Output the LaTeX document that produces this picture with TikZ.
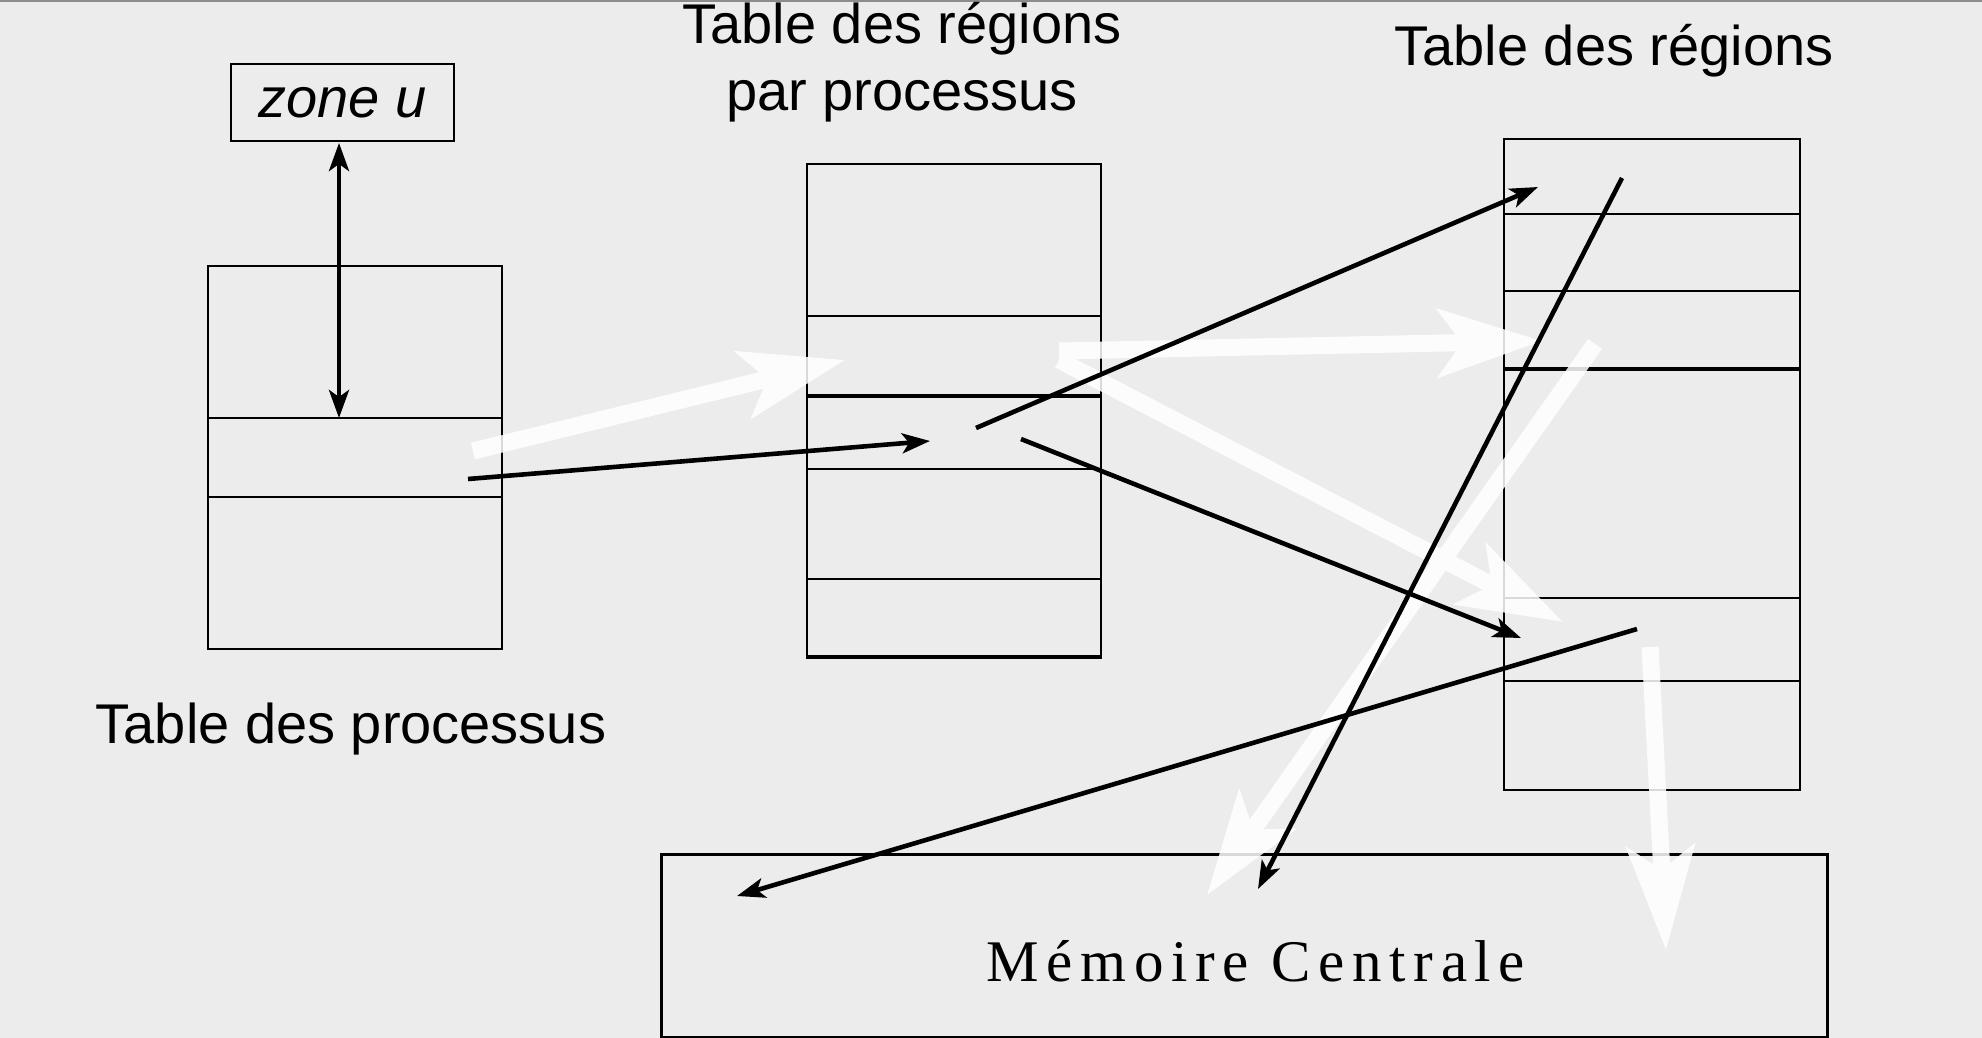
\documentclass[tikz,border=0pt]{standalone}
\usepackage{fontspec}
\usepackage{xcolor}
\setmainfont{Liberation Sans}
\newfontfamily\memfont{Liberation Serif}[LetterSpace=13.0]
\usetikzlibrary{arrows.meta}

\definecolor{paper}{HTML}{ECECEC}

\begin{document}
\begin{tikzpicture}[
    x=0.5pt, y=-0.5pt,
    font=\fontsize{28}{32}\selectfont,
    tbl/.style={
        rectangle,
        draw=black,
        line width=1pt,
        anchor=north west,
        inner sep=0pt
    },
    sep/.style={draw=black, line width=1pt},
    thicksep/.style={draw=black, line width=1.6pt},
    link/.style={-{Stealth[length=14pt,width=10pt,inset=3.5pt]}, line width=2.3pt, draw=black},
    both/.style={{Stealth[length=14pt,width=10pt,inset=3.5pt]}-{Stealth[length=14pt,width=10pt,inset=3.5pt]}, line width=2.3pt, draw=black},
    ghost/.style={-{Stealth[length=52pt,width=34pt,inset=12pt]}, line width=8.5pt, draw=white, fill=white},
    title/.style={anchor=base, align=center, inner sep=0pt}
]

% =========================================================
% Background
% =========================================================
\fill[paper] (0,0) rectangle (1982,1038);
\useasboundingbox (0,0) rectangle (1982,1038);
\draw[black!45, line width=1pt] (0,1) -- (1982,1);

% =========================================================
% Tables
% =========================================================
\node[tbl, minimum width=111.5pt, minimum height=38.5pt] (zone) at (230,63) {};
\node at (zone.center) {\itshape zone u};

% Process table
\node[tbl, minimum width=147pt, minimum height=191.5pt] (proc) at (207,265) {};
\draw[sep] (207,418) -- (501,418);
\draw[sep] (207,497) -- (501,497);
\node[title] (proclbl) at (351,743) {Table des processus};

% Regions per process
\node[tbl, minimum width=147pt, minimum height=247pt] (preg) at (806,163) {};
\draw[sep] (806,316) -- (1100,316);
\draw[thicksep] (806,396) -- (1100,396);
\draw[sep] (806,469) -- (1100,469);
\draw[sep] (806,579) -- (1100,579);
\draw[thicksep] (806,657) -- (1100,657);
\node[title] (preglbl) at (902,44) {Table des régions};
\node[title] (preglbl2) at (902,111) {par processus};

% Regions
\node[tbl, minimum width=148pt, minimum height=325.5pt] (reg) at (1503,138) {};
\draw[sep] (1503,214) -- (1799,214);
\draw[sep] (1503,291) -- (1799,291);
\draw[thicksep] (1503,369) -- (1799,369);
\draw[sep] (1503,598) -- (1799,598);
\draw[sep] (1503,681) -- (1799,681);
\node[title] (reglbl) at (1614,66) {Table des régions};

% Memory
\node[tbl, line width=1.6pt, minimum width=583pt, minimum height=91.5pt] (mem) at (660,853) {};
\node[title, font=\memfont\fontsize{29.5}{32}\selectfont] (memlbl) at (1256,981) {Mémoire Centrale};

% =========================================================
% Light arrows
% =========================================================
\coordinate (w1a) at (473,451);  \coordinate (w1b) at (845,360);
\coordinate (w2a) at (1059,351); \coordinate (w2b) at (1542,341);
\coordinate (w3a) at (1059,360); \coordinate (w3b) at (1563,622);
\coordinate (w4a) at (1595,344); \coordinate (w4b) at (1207,895);
\coordinate (w5a) at (1650,647); \coordinate (w5b) at (1666,950);

\begin{scope}[transparency group, opacity=0.85]
\draw[ghost] (w1a) -- (w1b);
\draw[ghost] (w2a) -- (w2b);
\draw[ghost] (w3a) -- (w3b);
\draw[ghost] (w4a) -- (w4b);
\draw[ghost] (w5a) -- (w5b);
\end{scope}

% =========================================================
% Links
% =========================================================
\coordinate (zu) at (339,143);
\coordinate (procrow) at (339,418);
\coordinate (procptr) at (468,479);
\coordinate (pregin) at (930,441);
\coordinate (pregout1) at (976,428);
\coordinate (pregout2) at (1021,439);
\coordinate (regin1) at (1538,187);
\coordinate (regin2) at (1521,638);
\coordinate (regout1) at (1622,178);
\coordinate (regout2) at (1637,629);
\coordinate (memin1) at (1258,889);
\coordinate (memin2) at (737,896);

\draw[both] (zu) -- (procrow);
\draw[link] (procptr) -- (pregin);
\draw[link] (pregout1) -- (regin1);
\draw[link] (pregout2) -- (regin2);
\draw[link] (regout1) -- (memin1);
\draw[link] (regout2) -- (memin2);

\end{tikzpicture}
\end{document}
